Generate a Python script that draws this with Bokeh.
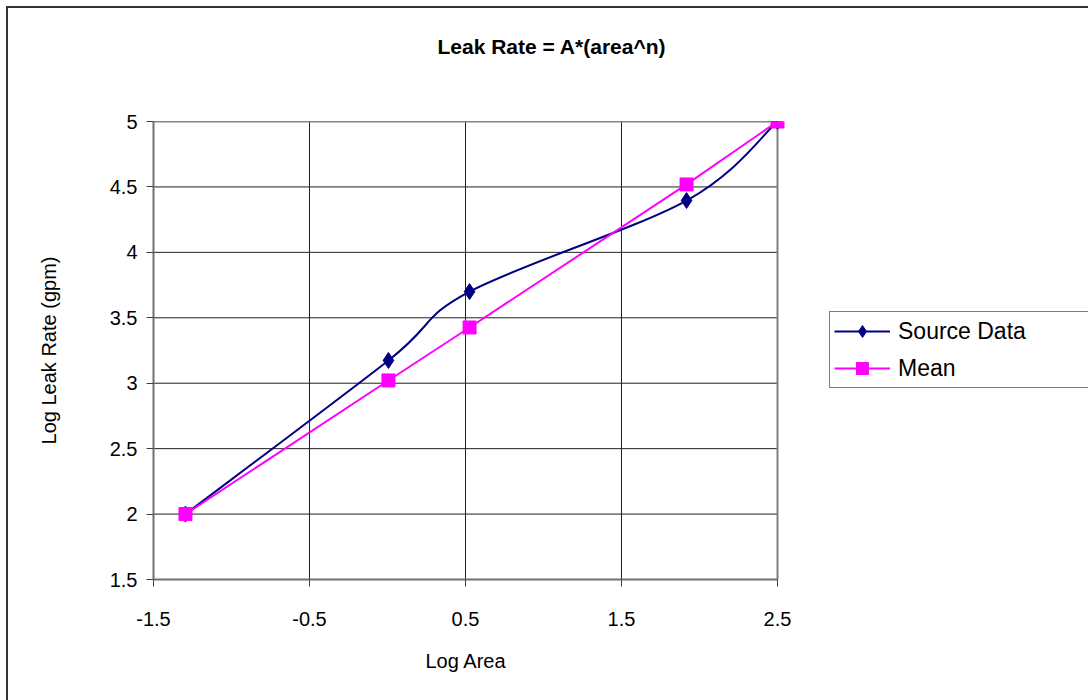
from bokeh.plotting import figure
from bokeh.models import Range1d, FixedTicker, Legend, LegendItem, ColumnDataSource, Title
from bokeh.embed import file_html
from bokeh.resources import INLINE

# ---- data ----
log_area = [-1.295, 0.006, 0.526, 1.917, 2.5]
source_data = [2.00, 3.174, 3.70, 4.396, 5.00]
mean_data = [2.00, 3.021, 3.426, 4.519, 5.00]
x_ticks = [-1.5, -0.5, 0.5, 1.5, 2.5]
y_ticks = [1.5, 2.0, 2.5, 3.0, 3.5, 4.0, 4.5, 5.0]
title_text = "Leak Rate = A*(area^n)"
x_label = "Log Area"
y_label = "Log Leak Rate (gpm)"
series_names = ["Source Data", "Mean"]

FONT = "Liberation Sans"

# the axes box is 624 px wide; the frame is extended to the right edge so the legend
# (which sits beside the axes box) can be drawn inside it.
PX_X = 624 / (x_ticks[-1] - x_ticks[0])
x_end = x_ticks[-1] + 311 / PX_X

p = figure(width=1080, height=692, output_backend="svg", toolbar_location=None,
           x_range=Range1d(x_ticks[0], x_end), y_range=Range1d(y_ticks[0], y_ticks[-1]),
           min_border_left=145, min_border_right=0, min_border_top=113, min_border_bottom=121)
p.margin = (8, 0, 0, 8)
p.styles = {"outline": "2px solid #333333"}
p.background_fill_color = "white"
p.border_fill_color = "white"
p.outline_line_color = None
p.title.text = ""

# axes
for ax in (p.xaxis[0], p.yaxis[0]):
    ax.axis_line_color = "#707070"
    ax.axis_line_width = 2
    ax.major_tick_line_color = "#404040"
    ax.major_tick_line_width = 1
    ax.major_tick_out = 7
    ax.major_tick_in = 0
    ax.minor_tick_line_color = None
    ax.major_label_text_font = FONT
    ax.major_label_text_font_size = "20px"
    ax.major_label_text_color = "black"
    ax.axis_label_text_font = FONT
    ax.axis_label_text_font_size = "20px"
    ax.axis_label_text_font_style = "normal"
    ax.axis_label_text_color = "black"

p.xaxis.bounds = (x_ticks[0], x_ticks[-1])
p.xaxis.ticker = FixedTicker(ticks=x_ticks)
p.yaxis.ticker = FixedTicker(ticks=y_ticks)
p.xaxis.major_label_overrides = {t: f"{t:g}" for t in x_ticks}
p.yaxis.major_label_overrides = {t: f"{t:g}" for t in y_ticks}
p.xaxis.major_label_standoff = 25
p.yaxis.axis_label = y_label
p.yaxis.major_label_standoff = 9
p.yaxis.axis_label_standoff = 47
p.xgrid.visible = False
p.ygrid.visible = False

# x-axis title (below the tick labels), centred under the axes box
p.add_layout(Title(text=x_label, text_font=FONT, text_font_size="20px", text_font_style="normal",
                   text_color="black", align="left", offset=272, standoff=38), "below")

# chart title with a spacer between it and the plot area
p.add_layout(Title(text=" ", text_font_size="2px", standoff=60), "above")
p.add_layout(Title(text=title_text, text_font=FONT, text_font_size="21px", text_font_style="bold",
                   text_color="black", align="left", offset=284, standoff=0), "above")

# grid lines limited to the axes box
gx0 = x_ticks + [x_ticks[0]] * len(y_ticks)
gx1 = x_ticks + [x_ticks[-1]] * len(y_ticks)
gy0 = [y_ticks[0]] * len(x_ticks) + y_ticks
gy1 = [y_ticks[-1]] * len(x_ticks) + y_ticks
p.segment(x0=gx0, y0=gy0, x1=gx1, y1=gy1, line_color="#202020", line_width=1)

# axes-box border (top and right edges)
p.segment(x0=[x_ticks[0], x_ticks[-1]], y0=[y_ticks[-1], y_ticks[0]],
          x1=[x_ticks[-1], x_ticks[-1]], y1=[y_ticks[-1], y_ticks[-1]],
          line_color="#808080", line_width=2)

# ---- smoothed source data (Excel-style Bezier smoothing) ----
n = len(log_area)
x0, y0, x1, y1, cx0, cy0, cx1, cy1 = [], [], [], [], [], [], [], []
for i in range(n - 1):
    im1 = max(i - 1, 0)
    ip2 = min(i + 2, n - 1)
    x0.append(log_area[i]); y0.append(source_data[i])
    x1.append(log_area[i + 1]); y1.append(source_data[i + 1])
    cx0.append(log_area[i] + (log_area[i + 1] - log_area[im1]) / 6)
    cy0.append(source_data[i] + (source_data[i + 1] - source_data[im1]) / 6)
    cx1.append(log_area[i + 1] - (log_area[ip2] - log_area[i]) / 6)
    cy1.append(source_data[i + 1] - (source_data[ip2] - source_data[i]) / 6)
bsrc = ColumnDataSource(dict(x0=x0, y0=y0, x1=x1, y1=y1, cx0=cx0, cy0=cy0, cx1=cx1, cy1=cy1))

NAVY = "#000080"
MAG = "#FF00FF"

src_curve = p.bezier(x0="x0", y0="y0", x1="x1", y1="y1", cx0="cx0", cy0="cy0", cx1="cx1", cy1="cy1",
                     source=bsrc, line_color=NAVY, line_width=2)
mean_line = p.line(log_area, mean_data, line_color=MAG, line_width=2)
src_pts = p.scatter(log_area, source_data, marker="diamond", size=16,
                    fill_color=NAVY, line_color=NAVY)
mean_pts = p.scatter(log_area, mean_data, marker="square", size=13,
                     fill_color=MAG, line_color=MAG)

legend = Legend(items=[
    LegendItem(label=series_names[0], renderers=[src_curve, src_pts]),
    LegendItem(label=series_names[1], renderers=[mean_line, mean_pts]),
], location=(676, 191))
legend.label_text_font = FONT
legend.label_text_font_size = "23px"
legend.label_text_color = "black"
legend.glyph_width = 56
legend.glyph_height = 30
legend.label_height = 30
legend.label_width = 200
legend.label_standoff = 8
legend.spacing = 7
legend.padding = 4
legend.margin = 0
legend.border_line_color = "black"
legend.border_line_width = 1
legend.background_fill_color = "white"
legend.background_fill_alpha = 1
p.add_layout(legend, "center")

open("out.html", "w").write(file_html(p, INLINE))
